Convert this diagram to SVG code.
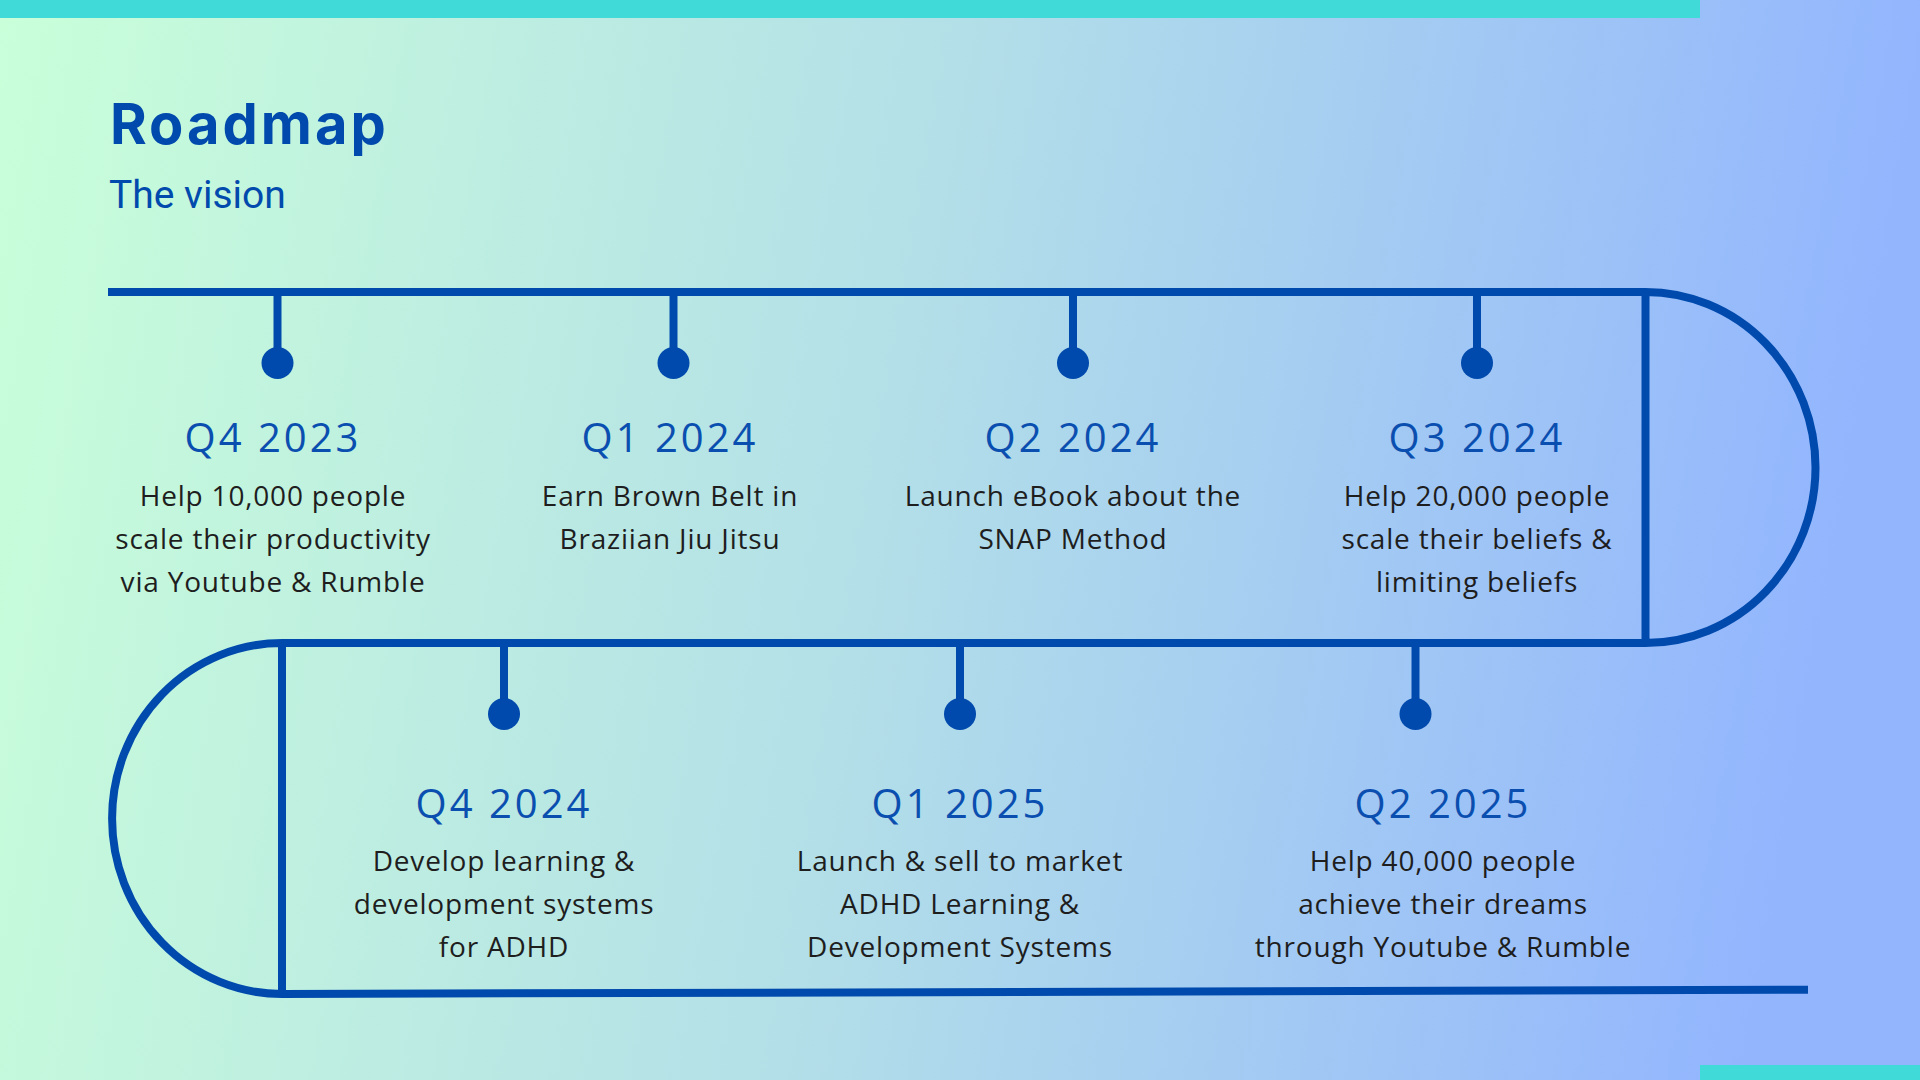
<svg xmlns="http://www.w3.org/2000/svg" width="1920" height="1080" viewBox="0 0 1920 1080">
<defs>
<linearGradient id="bg" x1="0" y1="0" x2="1" y2="0.1">
<stop offset="0" stop-color="#C9FFD9"/>
<stop offset="0.5" stop-color="#B3DFE8"/>
<stop offset="1" stop-color="#92B5FE"/>
</linearGradient>
<style>
.ln{stroke:#004AAD;stroke-width:8;fill:none}
.tk{stroke:#004AAD;stroke-width:8}
.dot{fill:#004AAD}
.hd{font-family:"Open Sans","DejaVu Sans",sans-serif;font-size:40px;fill:#0A4FB0;letter-spacing:3px;text-anchor:middle}
.bd{font-family:"Open Sans","DejaVu Sans",sans-serif;font-size:28px;fill:#1E1E1E;letter-spacing:0.8px;text-anchor:middle}
</style>
</defs>
<rect width="1920" height="1080" fill="url(#bg)"/>
<rect x="0" y="0" width="1700" height="18" fill="#40DBD8"/>
<rect x="1700" y="1065" width="220" height="15" fill="#40DBD8"/>
<text x="110" y="144" font-family="Inter,Roboto,'Liberation Sans',sans-serif" font-weight="bold" font-size="56" letter-spacing="3" fill="#004AAD">Roadmap</text>
<text x="109" y="208" font-family="Roboto,'Liberation Sans',sans-serif" font-size="39" fill="#004AAD">The vision</text>
<g id="connectors">
<path class="ln" d="M108,292 H1645.5 A170,175.5 0 0 1 1645.5,643 V292"/>
<path class="ln" d="M1645.5,643 H282 A170,175.5 0 0 0 282,994 V643"/>
<path class="ln" d="M282,994 L1808,989.7"/>
</g>
<g id="q4-2023">
<line class="tk" x1="277.5" y1="292" x2="277.5" y2="362"/>
<circle class="dot" cx="277.5" cy="363" r="16"/>
<text class="hd" x="273" y="452">Q4 2023</text>
<text class="bd" x="273" y="506">Help 10,000 people</text>
<text class="bd" x="273" y="549">scale their productivity</text>
<text class="bd" x="273" y="592">via Youtube &amp; Rumble</text>
</g>
<g id="q1-2024">
<line class="tk" x1="673.5" y1="292" x2="673.5" y2="362"/>
<circle class="dot" cx="673.5" cy="363" r="16"/>
<text class="hd" x="670" y="452">Q1 2024</text>
<text class="bd" x="670" y="506">Earn Brown Belt in</text>
<text class="bd" x="670" y="549">Braziian Jiu Jitsu</text>
</g>
<g id="q2-2024">
<line class="tk" x1="1073" y1="292" x2="1073" y2="362"/>
<circle class="dot" cx="1073" cy="363" r="16"/>
<text class="hd" x="1073" y="452">Q2 2024</text>
<text class="bd" x="1073" y="506">Launch eBook about the</text>
<text class="bd" x="1073" y="549">SNAP Method</text>
</g>
<g id="q3-2024">
<line class="tk" x1="1477" y1="292" x2="1477" y2="362"/>
<circle class="dot" cx="1477" cy="363" r="16"/>
<text class="hd" x="1477" y="452">Q3 2024</text>
<text class="bd" x="1477" y="506">Help 20,000 people</text>
<text class="bd" x="1477" y="549">scale their beliefs &amp;</text>
<text class="bd" x="1477" y="592">limiting beliefs</text>
</g>
<g id="q4-2024">
<line class="tk" x1="504" y1="643" x2="504" y2="713"/>
<circle class="dot" cx="504" cy="714" r="16"/>
<text class="hd" x="504" y="818">Q4 2024</text>
<text class="bd" x="504" y="871">Develop learning &amp;</text>
<text class="bd" x="504" y="914">development systems</text>
<text class="bd" x="504" y="957">for ADHD</text>
</g>
<g id="q1-2025">
<line class="tk" x1="960" y1="643" x2="960" y2="713"/>
<circle class="dot" cx="960" cy="714" r="16"/>
<text class="hd" x="960" y="818">Q1 2025</text>
<text class="bd" x="960" y="871">Launch &amp; sell to market</text>
<text class="bd" x="960" y="914">ADHD Learning &amp;</text>
<text class="bd" x="960" y="957">Development Systems</text>
</g>
<g id="q2-2025">
<line class="tk" x1="1415.5" y1="643" x2="1415.5" y2="713"/>
<circle class="dot" cx="1415.5" cy="714" r="16"/>
<text class="hd" x="1443" y="818">Q2 2025</text>
<text class="bd" x="1443" y="871">Help 40,000 people</text>
<text class="bd" x="1443" y="914">achieve their dreams</text>
<text class="bd" x="1443" y="957">through Youtube &amp; Rumble</text>
</g>
</svg>
